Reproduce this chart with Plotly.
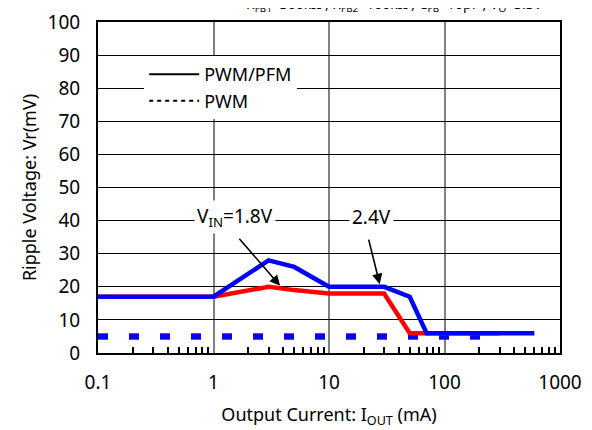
import numpy as np
import plotly.graph_objects as go

# Data
x_blue = [0.1, 1, 3, 5, 10, 30, 50, 70, 600]
y_blue = [17, 17, 28, 26, 20, 20, 17, 6, 6]
x_red = [0.1, 1, 3, 5, 10, 30, 50, 70, 300]
y_red = [17, 17, 20, 19, 18, 18, 6, 6, 6]
x_pwm = [0.1, 300]
y_pwm_blue = [5, 5]
y_pwm_red = [5, 5]

x_ticks = [0.1, 1, 10, 100, 1000]
x_tick_text = ["0.1", "1", "10", "100", "1000"]
x_minor = [m * d for d in (0.1, 1, 10, 100) for m in range(2, 10)]
y_ticks = list(range(0, 101, 10))

FONT = "Noto Sans"
BLUE = "#0000FF"
RED = "#FF0000"

fig = go.Figure()

fig.add_trace(go.Scatter(x=x_pwm, y=y_pwm_red, mode="lines",
                         line=dict(color=RED, width=6, dash="10px,21px"),
                         showlegend=False))
fig.add_trace(go.Scatter(x=x_pwm, y=y_pwm_blue, mode="lines",
                         line=dict(color=BLUE, width=6, dash="10px,21px"),
                         showlegend=False))
fig.add_trace(go.Scatter(x=x_red, y=y_red, mode="lines",
                         line=dict(color=RED, width=4.5), showlegend=False))
fig.add_trace(go.Scatter(x=x_blue, y=y_blue, mode="lines",
                         line=dict(color=BLUE, width=4.5), showlegend=False))

# legend entries
fig.add_trace(go.Scatter(x=[None], y=[None], mode="lines", name="PWM/PFM",
                         line=dict(color="black", width=2)))
fig.add_trace(go.Scatter(x=[None], y=[None], mode="lines", name="PWM",
                         line=dict(color="black", width=2, dash="4px,4px")))

# annotations
ann = []
ann.append(dict(x=np.log10(1.53), y=41, xref="x", yref="y",
                text="V<sub>IN</sub>=1.8V", showarrow=False,
                font=dict(family=FONT, size=19, color="black"),
                bgcolor="white", borderpad=2))
ann.append(dict(x=np.log10(23.5), y=41, xref="x", yref="y",
                text="2.4V", showarrow=False,
                font=dict(family=FONT, size=19, color="black"),
                bgcolor="white", borderpad=2))
ann.append(dict(x=np.log10(3.77), y=20.3, xref="x", yref="y",
                ax=np.log10(1.63), ay=35, axref="x", ayref="y",
                text="", showarrow=True, arrowhead=2, arrowsize=1.3,
                arrowwidth=1.6, arrowcolor="black"))
ann.append(dict(x=np.log10(27.5), y=20.8, xref="x", yref="y",
                ax=np.log10(21.9), ay=34.7, axref="x", ayref="y",
                text="", showarrow=True, arrowhead=2, arrowsize=1.3,
                arrowwidth=1.6, arrowcolor="black"))
ann.append(dict(x=0.967, y=1.014, xref="paper", yref="paper",
                xanchor="right", yanchor="bottom",
                text="R<sub>FB1</sub>=300kΩ , R<sub>FB2</sub>=100kΩ , C<sub>FB</sub>=10pF , V<sub>O</sub>=3.3V",
                showarrow=False, font=dict(family=FONT, size=14, color="black")))

fig.update_layout(
    width=592, height=430,
    margin=dict(l=90, r=40, t=14, b=85),
    paper_bgcolor="white", plot_bgcolor="white",
    font=dict(family=FONT, size=18, color="black"),
    annotations=ann,
    legend=dict(x=0.10, y=0.897, xanchor="left", yanchor="top",
                bgcolor="white", borderwidth=0,
                font=dict(family=FONT, size=18, color="black"),
                itemwidth=50, tracegroupgap=0),
    xaxis=dict(type="log", range=[-1, 3], tickvals=x_ticks, ticktext=x_tick_text,
               showgrid=True, gridcolor="#808080", gridwidth=1.5,
               showline=True, linecolor="black", linewidth=2, mirror=True,
               ticks="", tickfont=dict(family=FONT, size=19),
               ticklabelstandoff=11, automargin=False,
               minor=dict(tickvals=x_minor, ticks="inside", ticklen=6,
                          tickcolor="black", tickwidth=1.5, showgrid=False),
               title=dict(text="Output Current: I<sub>OUT</sub> (mA)",
                          font=dict(family=FONT, size=18), standoff=15),
               zeroline=False),
    yaxis=dict(range=[0, 100], tickvals=y_ticks,
               showgrid=True, gridcolor="black", gridwidth=1,
               showline=True, linecolor="black", linewidth=2, mirror=True,
               ticks="", tickfont=dict(family=FONT, size=19),
               ticklabelstandoff=12, automargin=False,
               title=dict(text="Ripple Voltage: Vr(mV)",
                          font=dict(family=FONT, size=18), standoff=6),
               zeroline=False),
)

fig.write_html("out.html")
